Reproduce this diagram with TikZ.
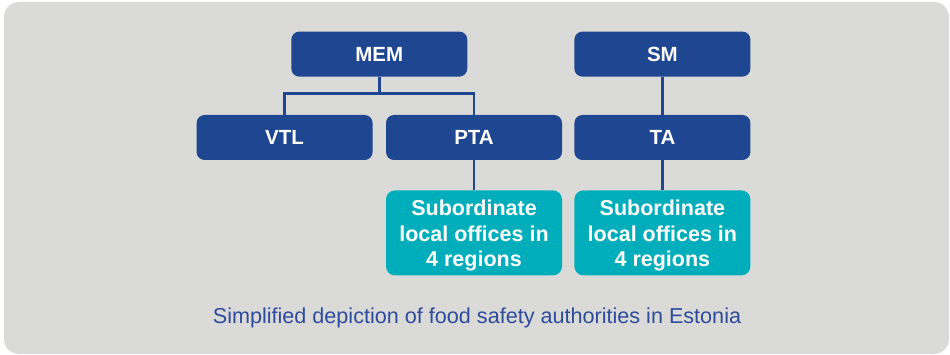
\documentclass[tikz,border=0pt]{standalone}
\usepackage{fontspec}
\setmainfont{Liberation Sans}
\usetikzlibrary{positioning, calc}
\definecolor{orgblue}{HTML}{1F4690}
\definecolor{subteal}{HTML}{00AEBB}
\definecolor{panelgray}{HTML}{DADAD8}
\definecolor{captionblue}{HTML}{2E4B9C}
\newcommand{\subtop}{\rule{0pt}{21pt}}
\tikzset{
  orgbox/.style={rectangle, fill=orgblue, text=white, minimum width=176pt, minimum height=45pt, inner sep=0pt, align=center, rounded corners=8pt, font=\fontsize{20.5}{25}\selectfont\bfseries},
  subbox/.style={rectangle, fill=subteal, text=white, minimum width=176pt, minimum height=85pt, inner sep=0pt, align=center, rounded corners=9pt, font=\fontsize{21.5}{25.5}\selectfont\bfseries},
  link/.style={draw=orgblue, line width=2.6pt},
}

\begin{document}
\begin{tikzpicture}[x=1pt, y=1pt]
  \useasboundingbox (0,0) rectangle (950,-355);
  % Panel
  \fill[panelgray, rounded corners=15pt] (4,-2) rectangle (949,-354);

  % Second row
  \node[orgbox] (pta) at (474,-137.5) {PTA};
  \node[orgbox, left=13pt of pta] (vtl) {VTL};
  \node[orgbox, right=12pt of pta] (ta) {TA};

  % Top row
  \node[orgbox, above=38pt of $(vtl.north)!0.5!(pta.north)$] (mem) {MEM};
  \node[orgbox, above=38pt of ta] (sm) {SM};

  % Local offices
  \node[subbox, below=30pt of pta] (subpta) {\subtop Subordinate\\local offices in\\4 regions};
  \node[subbox, below=30pt of ta] (subta) {\subtop Subordinate\\local offices in\\4 regions};

  % Connectors
  \coordinate (fork) at ($(mem.south)+(0,-17)$);
  \draw[link] (mem.south) -- (fork);
  \draw[link] (vtl.north) |- (fork) -| (pta.north);
  \draw[link] (sm.south) -- (ta.north);
  \draw[link] (pta.south) -- (subpta.north);
  \draw[link] (ta.south) -- (subta.north);

  % Caption
  \node[text=captionblue, font=\fontsize{21.6}{26}\selectfont, inner sep=0pt] (caption) at (477,-318) {Simplified depiction of food safety authorities in Estonia};
\end{tikzpicture}
\end{document}
